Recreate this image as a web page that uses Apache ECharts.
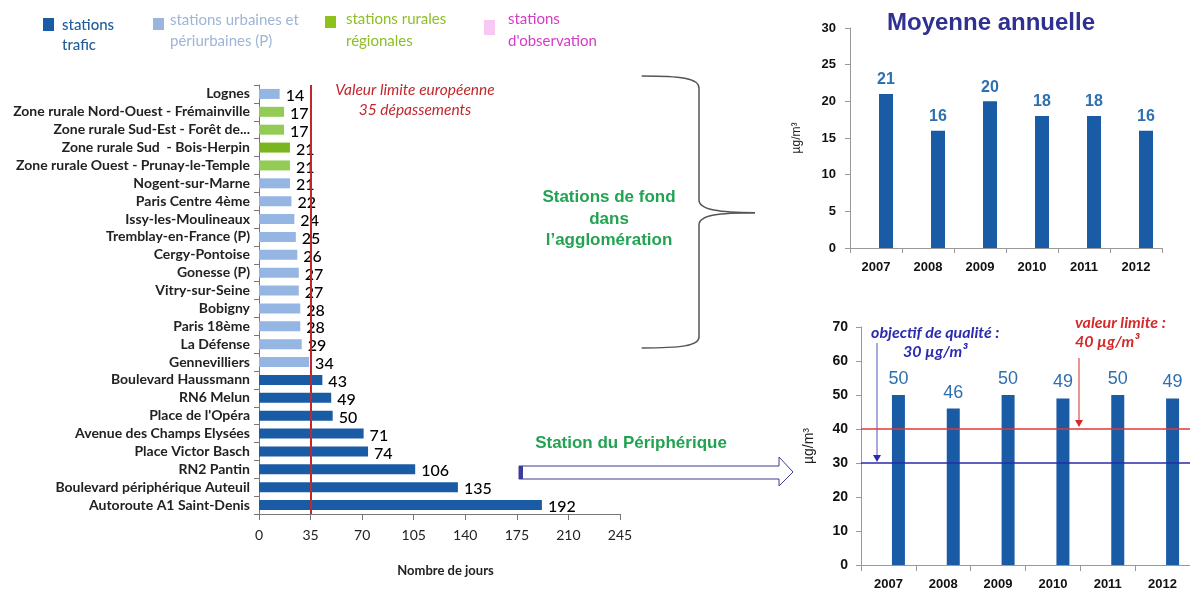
<!DOCTYPE html>
<html><head><meta charset="utf-8">
<script src="https://cdn.jsdelivr.net/npm/echarts@6/dist/echarts.min.js"></script>
<style>html,body{margin:0;padding:0;background:#fff}#c{width:1190px;height:594px}</style>
</head><body><div id="c"></div>
<script>
// ---- data ----
const stations = ['Lognes','Zone rurale Nord-Ouest - Frémainville','Zone rurale Sud-Est - Forêt de...','Zone rurale Sud  - Bois-Herpin','Zone rurale Ouest - Prunay-le-Temple','Nogent-sur-Marne','Paris Centre 4ème','Issy-les-Moulineaux','Tremblay-en-France (P)','Cergy-Pontoise','Gonesse (P)','Vitry-sur-Seine','Bobigny','Paris 18ème','La Défense','Gennevilliers','Boulevard Haussmann','RN6 Melun',"Place de l'Opéra",'Avenue des Champs Elysées','Place Victor Basch','RN2 Pantin','Boulevard périphérique Auteuil','Autoroute A1 Saint-Denis'];
const jours = [14,17,17,21,21,21,22,24,25,26,27,27,28,28,29,34,43,49,50,71,74,106,135,192];
const stationTypes = ['urbain','rural','rural','rural2','rural','urbain','urbain','urbain','urbain','urbain','urbain','urbain','urbain','urbain','urbain','urbain','trafic','trafic','trafic','trafic','trafic','trafic','trafic','trafic'];
const joursTicks = [0,35,70,105,140,175,210,245];
const euLimit = 35;
const years = ['2007','2008','2009','2010','2011','2012'];
const moyenneFond = [21,16,20,18,18,16];
const moyennePeriph = [50,46,50,49,50,49];
const limiteValeur = 40;
const objectifQualite = 30;

// ---- styles ----
const typeColors = {trafic:'#1a5ba6', urbain:'#95b5e2', rural:'#92cc55', rural2:'#7ab51d', obs:'#f7c6f0'};
const narrow = "Lato,'Open Sans',sans-serif";
const arial = "'Liberation Sans',Arial,sans-serif";

const chart = echarts.init(document.getElementById('c'), null, {renderer:'canvas'});

const gLegend = [
  {type:'rect', shape:{x:43,y:18,width:11,height:13}, style:{fill:'#1a5ba6'}},
  {type:'text', style:{x:62,y:15,text:'stations\ntrafic', font:"500 15px "+narrow, fill:'#1f5c9c', lineHeight:20}},
  {type:'rect', shape:{x:153,y:18,width:11,height:12}, style:{fill:'#9ab6e0'}},
  {type:'text', style:{x:170,y:10,text:'stations urbaines et\npériurbaines (P)', font:"15px "+narrow, fill:'#9db5d6', lineHeight:21}},
  {type:'rect', shape:{x:325,y:16,width:11,height:12}, style:{fill:'#8cc21a'}},
  {type:'text', style:{x:346,y:8,text:'stations rurales\nrégionales', font:"15px "+narrow, fill:'#8dbf25', lineHeight:22}},
  {type:'rect', shape:{x:484,y:20,width:11,height:15}, style:{fill:'#f8c8f2'}},
  {type:'text', style:{x:508,y:8,text:"stations\nd'observation", font:"15px "+narrow, fill:'#d43cc6', lineHeight:22}}
];

const braceStyle = {stroke:'#555', lineWidth:1.5, fill:null};
const gOther = [
  {type:'text', style:{x:415,y:80,text:'Valeur limite européenne\n35 dépassements', font:"italic 15.5px "+narrow, fill:'#c0282d', align:'center', lineHeight:20}},
  {type:'bezierCurve', shape:{x1:641.7,y1:76,cpx1:680,cpy1:76,cpx2:699,cpy2:78,x2:699,y2:88}, style:braceStyle},
  {type:'line', shape:{x1:699,y1:88,x2:699,y2:200}, style:braceStyle},
  {type:'bezierCurve', shape:{x1:699,y1:200,cpx1:699,cpy1:210,cpx2:720,cpy2:212.7,x2:755,y2:212.7}, style:braceStyle},
  {type:'bezierCurve', shape:{x1:755,y1:212.7,cpx1:720,cpy1:212.7,cpx2:699,cpy2:215,x2:699,y2:225}, style:braceStyle},
  {type:'line', shape:{x1:699,y1:225,x2:699,y2:337}, style:braceStyle},
  {type:'bezierCurve', shape:{x1:699,y1:337,cpx1:699,cpy1:346,cpx2:680,cpy2:348,x2:641.7,y2:348}, style:braceStyle},
  {type:'text', style:{x:609,y:187,text:"Stations de fond\ndans\nl’agglomération", font:"bold 17px "+arial, fill:'#22a352', align:'center', lineHeight:21.5}},
  {type:'text', style:{x:631,y:435,text:'Station du Périphérique', font:"bold 17px "+arial, fill:'#22a352', align:'center'}},
  {type:'polygon', shape:{points:[[519,466],[779,466],[779,457],[793,472],[779,486],[779,479],[519,479]]}, style:{fill:'#fff',stroke:'#3c3c8c',lineWidth:1}},
  {type:'rect', shape:{x:519,y:466,width:4,height:13}, style:{fill:'#3c3ca0'}},
  {type:'text', style:{x:991,y:11,text:'Moyenne annuelle', font:"bold 24px "+arial, fill:'#2e3192', align:'center'}},
  {type:'text', style:{x:871,y:325,text:'objectif de qualité :', font:"italic bold 16px "+narrow, fill:'#2b2bb0'}},
  {type:'text', style:{x:903,y:344,text:'30 µg/m³', font:"italic bold 16px "+narrow, fill:'#2b2bb0'}},
  {type:'line', shape:{x1:877,y1:343,x2:877,y2:456}, style:{stroke:'#5555c0',lineWidth:1}},
  {type:'polygon', shape:{points:[[873,455],[881,455],[877,462]]}, style:{fill:'#2b2bb0'}},
  {type:'text', style:{x:1075,y:315,text:'valeur limite :', font:"italic bold 16px "+narrow, fill:'#d42a2a'}},
  {type:'text', style:{x:1075,y:334,text:'40 µg/m³', font:"italic bold 16px "+narrow, fill:'#d42a2a'}},
  {type:'line', shape:{x1:1079,y1:358,x2:1079,y2:421}, style:{stroke:'#d42a2a',lineWidth:1}},
  {type:'polygon', shape:{points:[[1075,420],[1083,420],[1079,427]]}, style:{fill:'#d42a2a'}}
];

const axisLineGray = {lineStyle:{color:'#999',width:1}};

chart.setOption({
  animation:false,
  backgroundColor:'#fff',
  grid:[
    {left:259, right:570, top:85, bottom:80},
    {left:850, right:28, top:28, bottom:346},
    {left:861, right:0, top:327, bottom:29}
  ],
  xAxis:[
    {gridIndex:0, type:'value', min:joursTicks[0], max:joursTicks[joursTicks.length-1], interval:35,
     name:'Nombre de jours', nameLocation:'middle', nameGap:50,
     nameTextStyle:{fontFamily:narrow, fontWeight:'bold', fontSize:13, color:'#222', padding:[0,0,0,12]},
     axisLine:{show:true, lineStyle:{color:'#777'}}, axisTick:{show:true, length:6, lineStyle:{color:'#777'}},
     splitLine:{show:false}, axisLabel:{fontFamily:narrow, fontSize:14, color:'#222', margin:14}},
    {gridIndex:1, type:'category', data:years, axisLine:axisLineGray, axisTick:{show:true, length:5, lineStyle:{color:'#999'}},
     axisLabel:{fontFamily:arial, fontWeight:'bold', fontSize:13, color:'#111', margin:13}},
    {gridIndex:2, type:'category', data:years, axisLine:axisLineGray, axisTick:{show:true, length:6, lineStyle:{color:'#999'}},
     axisLabel:{fontFamily:arial, fontWeight:'bold', fontSize:13, color:'#111', margin:13}}
  ],
  yAxis:[
    {gridIndex:0, type:'category', data:stations, inverse:true,
     axisLine:{show:true, lineStyle:{color:'#777'}}, axisTick:{show:true, length:5, interval:0, lineStyle:{color:'#777'}},
     axisLabel:{interval:0, fontFamily:narrow, fontWeight:'bold', fontSize:14, color:'#222', margin:9}},
    {gridIndex:1, type:'value', min:0, max:30, interval:5, splitLine:{show:false},
     name:'µg/m³', nameLocation:'middle', nameGap:47, nameRotate:90, nameTextStyle:{fontFamily:arial, fontSize:12, color:'#222'},
     axisLine:{show:true, lineStyle:{color:'#999'}}, axisTick:{show:true, length:5, lineStyle:{color:'#999'}},
     axisLabel:{fontFamily:arial, fontWeight:'bold', fontSize:13, color:'#111', margin:14}},
    {gridIndex:2, type:'value', min:0, max:70, interval:10, splitLine:{show:false},
     name:'µg/m³', nameLocation:'middle', nameGap:45, nameRotate:90, nameTextStyle:{fontFamily:arial, fontSize:14, color:'#222'},
     axisLine:{show:true, lineStyle:{color:'#999'}}, axisTick:{show:true, length:5, lineStyle:{color:'#999'}},
     axisLabel:{fontFamily:arial, fontWeight:'bold', fontSize:14, color:'#111', margin:13}}
  ],
  series:[
    {type:'bar', xAxisIndex:0, yAxisIndex:0, barWidth:10,
     data: jours.map((v,i)=>({value:v, itemStyle:{color:typeColors[stationTypes[i]]}})),
     label:{show:true, position:'right', distance:6, fontFamily:narrow, fontWeight:500, fontSize:16, color:'#000', offset:[0,2]},
     markLine:{silent:true, symbol:'none', label:{show:false}, lineStyle:{color:'#c0282d', width:2, type:'solid'}, data:[{xAxis:euLimit}]}},
    {type:'bar', xAxisIndex:1, yAxisIndex:1, name:'pad', data:years.map(()=>'-'), barWidth:14, barGap:'43%'},
    {type:'bar', xAxisIndex:1, yAxisIndex:1, data:moyenneFond, barWidth:14, barGap:'43%', itemStyle:{color:'#1a5ba6'},
     label:{show:true, position:'top', distance:6, fontFamily:arial, fontWeight:'bold', fontSize:16, color:'#2e6fb0'}},
    {type:'bar', xAxisIndex:2, yAxisIndex:2, name:'pad2', data:years.map(()=>'-'), barWidth:13, barGap:'54%'},
    {type:'bar', xAxisIndex:2, yAxisIndex:2, data:moyennePeriph, barWidth:13, barGap:'54%', itemStyle:{color:'#1a5ba6'},
     label:{show:true, position:'top', distance:7, fontFamily:arial, fontSize:18, color:'#2e6fb0'},
     markLine:{silent:true, symbol:'none', label:{show:false}, data:[
       {yAxis:limiteValeur, lineStyle:{color:'#e03a3a', width:1.5, type:'solid'}},
       {yAxis:objectifQualite, lineStyle:{color:'#2a2aa8', width:1.5, type:'solid'}}
     ]}}
  ],
  graphic: gLegend.concat(gOther)
});
</script></body></html>
